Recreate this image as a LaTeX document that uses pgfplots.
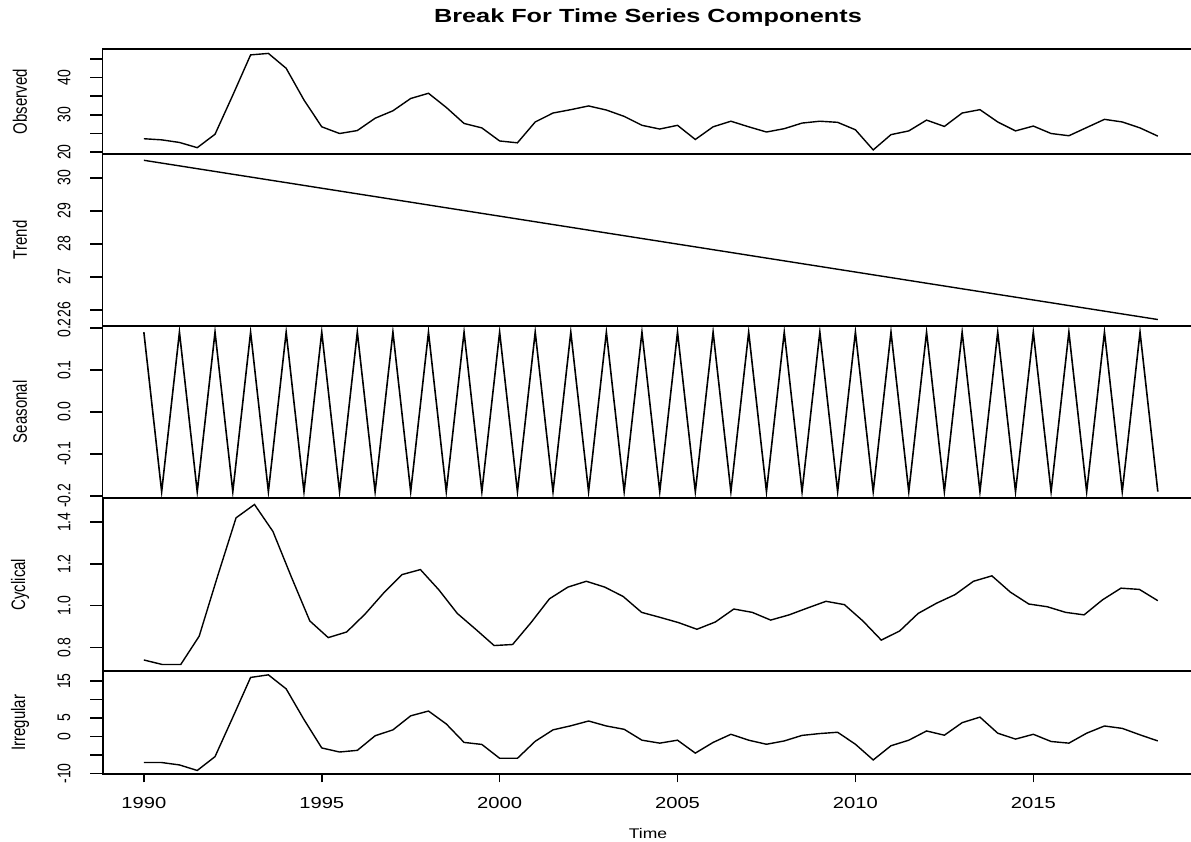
\documentclass[border=0pt]{standalone}
\usepackage{fontspec}
\setmainfont{Liberation Sans}
\usepackage{pgfplots}
\pgfplotsset{compat=1.18}
\pgfplotstableread{
t v
1990.0 23.6
1990.5 23.3
1991.0 22.6
1991.5 21.2
1992.0 24.8
1992.5 35.3
1993.0 46.1
1993.5 46.5
1994.0 42.5
1994.5 34.0
1995.0 26.8
1995.5 25.0
1996.0 25.8
1996.5 29.1
1997.0 31.1
1997.5 34.4
1998.0 35.8
1998.5 32.0
1999.0 27.7
1999.5 26.5
2000.0 23.0
2000.5 22.5
2001.0 28.1
2001.5 30.5
2002.0 31.4
2002.5 32.4
2003.0 31.3
2003.5 29.6
2004.0 27.2
2004.5 26.2
2005.0 27.2
2005.5 23.4
2006.0 26.8
2006.5 28.3
2007.0 26.8
2007.5 25.4
2008.0 26.3
2008.5 27.8
2009.0 28.3
2009.5 28.0
2010.0 26.0
2010.5 20.6
2011.0 24.7
2011.5 25.7
2012.0 28.6
2012.5 26.9
2013.0 30.5
2013.5 31.4
2014.0 28.1
2014.5 25.7
2015.0 27.0
2015.5 25.0
2016.0 24.4
2016.5 26.6
2017.0 28.8
2017.5 28.1
2018.0 26.5
2018.5 24.3
}\observed
\pgfplotstableread{
t v
1990.0 30.530
1990.5 30.445
1991.0 30.361
1991.5 30.276
1992.0 30.192
1992.5 30.107
1993.0 30.023
1993.5 29.938
1994.0 29.854
1994.5 29.769
1995.0 29.684
1995.5 29.600
1996.0 29.515
1996.5 29.431
1997.0 29.346
1997.5 29.262
1998.0 29.177
1998.5 29.092
1999.0 29.008
1999.5 28.923
2000.0 28.839
2000.5 28.754
2001.0 28.670
2001.5 28.585
2002.0 28.501
2002.5 28.416
2003.0 28.331
2003.5 28.247
2004.0 28.162
2004.5 28.078
2005.0 27.993
2005.5 27.909
2006.0 27.824
2006.5 27.740
2007.0 27.655
2007.5 27.570
2008.0 27.486
2008.5 27.401
2009.0 27.317
2009.5 27.232
2010.0 27.148
2010.5 27.063
2011.0 26.979
2011.5 26.894
2012.0 26.809
2012.5 26.725
2013.0 26.640
2013.5 26.556
2014.0 26.471
2014.5 26.387
2015.0 26.302
2015.5 26.218
2016.0 26.133
2016.5 26.048
2017.0 25.964
2017.5 25.879
2018.0 25.795
2018.5 25.710
}\trend
\pgfplotstableread{
t v
1990.0 0.19
1990.5 -0.19
1991.0 0.19
1991.5 -0.19
1992.0 0.19
1992.5 -0.19
1993.0 0.19
1993.5 -0.19
1994.0 0.19
1994.5 -0.19
1995.0 0.19
1995.5 -0.19
1996.0 0.19
1996.5 -0.19
1997.0 0.19
1997.5 -0.19
1998.0 0.19
1998.5 -0.19
1999.0 0.19
1999.5 -0.19
2000.0 0.19
2000.5 -0.19
2001.0 0.19
2001.5 -0.19
2002.0 0.19
2002.5 -0.19
2003.0 0.19
2003.5 -0.19
2004.0 0.19
2004.5 -0.19
2005.0 0.19
2005.5 -0.19
2006.0 0.19
2006.5 -0.19
2007.0 0.19
2007.5 -0.19
2008.0 0.19
2008.5 -0.19
2009.0 0.19
2009.5 -0.19
2010.0 0.19
2010.5 -0.19
2011.0 0.19
2011.5 -0.19
2012.0 0.19
2012.5 -0.19
2013.0 0.19
2013.5 -0.19
2014.0 0.19
2014.5 -0.19
2015.0 0.19
2015.5 -0.19
2016.0 0.19
2016.5 -0.19
2017.0 0.19
2017.5 -0.19
2018.0 0.19
2018.5 -0.19
}\seasonal
\pgfplotstableread{
t v
1990.000 0.740
1990.518 0.718
1991.036 0.718
1991.555 0.854
1992.073 1.142
1992.591 1.421
1993.109 1.485
1993.627 1.356
1994.145 1.138
1994.664 0.927
1995.182 0.847
1995.700 0.874
1996.218 0.960
1996.736 1.060
1997.255 1.149
1997.773 1.173
1998.291 1.076
1998.809 0.963
1999.327 0.887
1999.845 0.809
2000.364 0.814
2000.882 0.919
2001.400 1.033
2001.918 1.089
2002.436 1.117
2002.955 1.089
2003.473 1.044
2003.991 0.968
2004.509 0.944
2005.027 0.919
2005.545 0.887
2006.064 0.922
2006.582 0.984
2007.100 0.968
2007.618 0.931
2008.136 0.956
2008.655 0.989
2009.173 1.021
2009.691 1.005
2010.209 0.927
2010.727 0.835
2011.245 0.879
2011.764 0.963
2012.282 1.012
2012.800 1.053
2013.318 1.117
2013.836 1.143
2014.355 1.065
2014.873 1.008
2015.391 0.995
2015.909 0.968
2016.427 0.956
2016.945 1.028
2017.464 1.084
2017.982 1.078
2018.500 1.024
}\cyclical
\pgfplotstableread{
t v
1990.0 -7.05
1990.5 -7.05
1991.0 -7.7
1991.5 -9.2
1992.0 -5.45
1992.5 5.2
1993.0 16.0
1993.5 16.7
1994.0 12.9
1994.5 4.6
1995.0 -3.1
1995.5 -4.2
1996.0 -3.75
1996.5 0.2
1997.0 1.8
1997.5 5.6
1998.0 6.9
1998.5 3.4
1999.0 -1.6
1999.5 -2.15
2000.0 -5.9
2000.5 -5.9
2001.0 -1.3
2001.5 1.8
2002.0 2.9
2002.5 4.2
2003.0 2.85
2003.5 1.95
2004.0 -1.0
2004.5 -1.8
2005.0 -1.0
2005.5 -4.5
2006.0 -1.6
2006.5 0.6
2007.0 -1.0
2007.5 -2.1
2008.0 -1.2
2008.5 0.3
2009.0 0.8
2009.5 1.15
2010.0 -2.1
2010.5 -6.35
2011.0 -2.5
2011.5 -1.0
2012.0 1.5
2012.5 0.35
2013.0 3.75
2013.5 5.25
2014.0 0.9
2014.5 -0.7
2015.0 0.6
2015.5 -1.35
2016.0 -1.8
2016.5 0.9
2017.0 2.85
2017.5 2.2
2018.0 0.45
2018.5 -1.2
}\irregular
\begin{document}
\begin{tikzpicture}
\useasboundingbox (0pt,0pt) rectangle (595.5pt,-421pt);
\pgfplotsset{
  panel/.style={
    scale only axis, width=545.4pt, xmin=1988.84, xmax=2019.5,
    anchor=north west,
    axis line style={line width=0.9pt, black},
    xtick=\empty,
    tick align=outside, major tick length=6.3pt,
    tick style={line width=0.8pt, black},
    ytick pos=left,
    yticklabel shift=13pt,
    yticklabel style={rotate=90, yscale=1.3, anchor=center, font=\fontsize{7}{8}\selectfont},
    every axis y label/.style={at={(axis description cs:-0.0757,0.5)}, anchor=center, rotate=90, yscale=1.3, font=\fontsize{7.5}{9}\selectfont},
  },
  dataline/.style={black, line width=0.7pt, mark=none},
}
\node[font=\bfseries\fontsize{9.5}{11}\selectfont, xscale=1.33] at (324pt,-9pt) {Break For Time Series Components};

\begin{axis}[panel, at={(51.3pt,-24.65pt)}, height=52.35pt,
  ymin=19.5, ymax=47.6, ytick={20,25,30,35,40,45}, yticklabels={20,,30,,40,},
  ylabel={Observed}]
\addplot[dataline] table[x=t,y=v] {\observed};
\end{axis}

\begin{axis}[panel, at={(51.3pt,-77pt)}, height=85.9pt,
  ymin=25.52, ymax=30.72, ytick={26,27,28,29,30}, yticklabels={26,27,28,29,30},
  ylabel={Trend}]
\addplot[dataline] table[x=t,y=v] {\trend};
\end{axis}

\begin{axis}[panel, at={(51.3pt,-162.9pt)}, height=86.1pt,
  ymin=-0.2052, ymax=0.2052, ytick={-0.2,-0.1,0,0.1,0.2}, yticklabels={-0.2,-0.1,0.0,0.1,0.2},
  ylabel={Seasonal}]
\addplot[dataline, line width=0.8pt] table[x=t,y=v] {\seasonal};
\end{axis}

\begin{axis}[panel, at={(51.3pt,-249pt)}, height=86.5pt,
  ymin=0.687, ymax=1.516, ytick={0.8,1.0,1.2,1.4}, yticklabels={0.8,1.0,1.2,1.4},
  ylabel={Cyclical}]
\addplot[dataline] table[x=t,y=v] {\cyclical};
\end{axis}

\begin{axis}[panel, at={(51.3pt,-335.5pt)}, height=51.65pt,
  ymin=-10.24, ymax=17.74, ytick={-10,-5,0,5,10,15}, yticklabels={-10,,0,5,,15},
  ylabel={Irregular},
  xtick={1990,1995,2000,2005,2010,2015}, xticklabels={1990,1995,2000,2005,2010,2015},
  xtick pos=bottom,
  xtick style={/pgfplots/major tick length=4pt},
  xticklabel style={yshift=-8pt, anchor=center, xscale=1.26, font=\fontsize{8}{9}\selectfont},
  xlabel={Time},
  every axis x label/.style={at={(axis description cs:0.5,0)}, yshift=-29.5pt, anchor=center, xscale=1.25, font=\fontsize{7}{8}\selectfont}]
\addplot[dataline] table[x=t,y=v] {\irregular};
\end{axis}
\end{tikzpicture}
\end{document}
